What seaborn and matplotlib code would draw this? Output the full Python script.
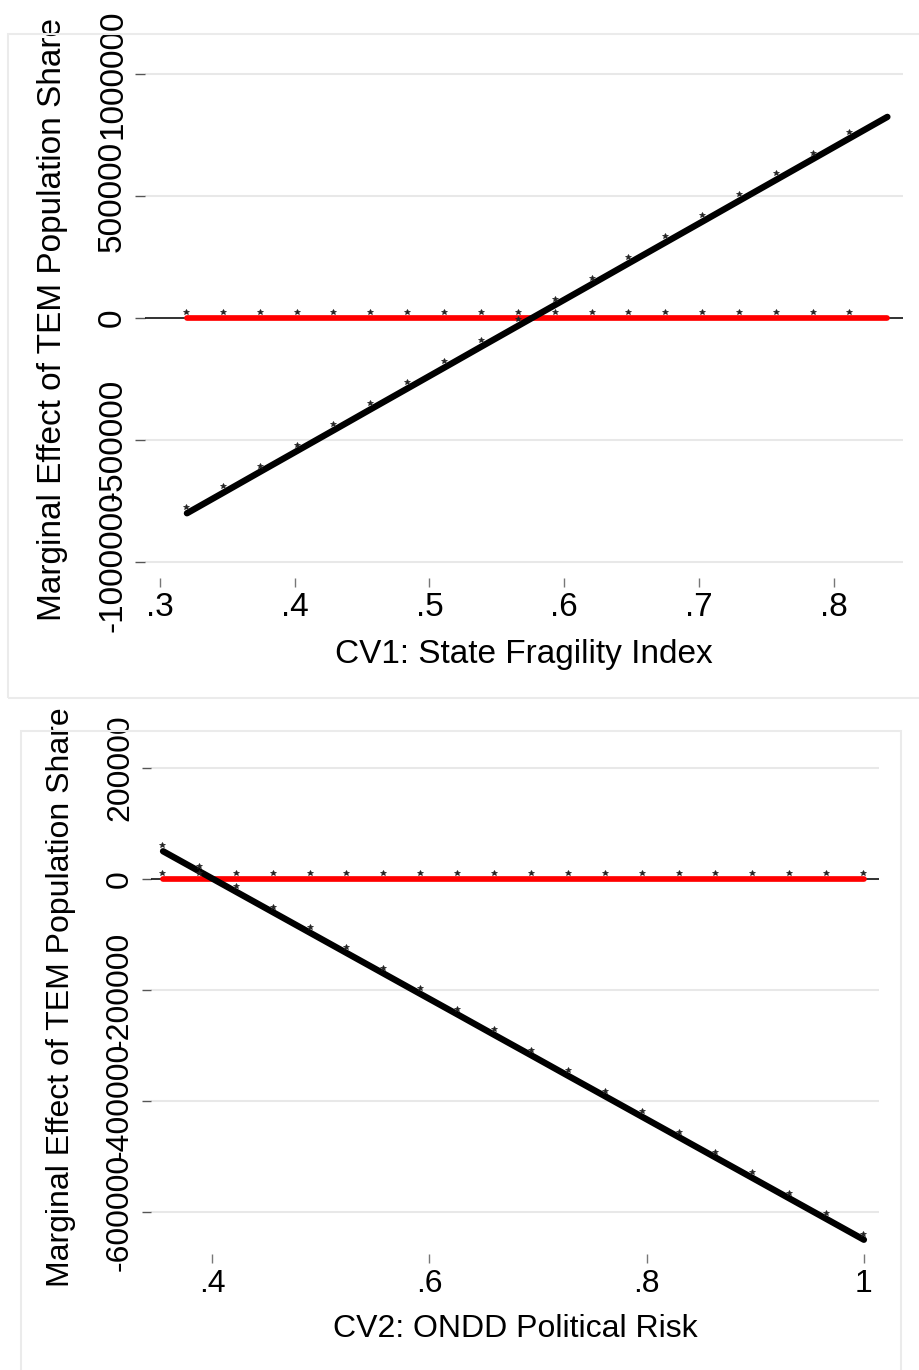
import matplotlib
matplotlib.use("Agg")
import matplotlib.pyplot as plt
from matplotlib.patches import Rectangle
from matplotlib.transforms import offset_copy
import seaborn as sns
import pandas as pd

# ---------------- data ----------------
cv1_x = [0.32, 0.3474, 0.3747, 0.4021, 0.4295, 0.4568, 0.4842, 0.5116, 0.5389, 0.5663,
         0.5937, 0.6211, 0.6484, 0.6758, 0.7032, 0.7305, 0.7579, 0.7853, 0.8126, 0.84]
cv1_me = [-800000, -714500, -629000, -543600, -458100, -372600, -287200, -201700, -116200, -30700,
          54700, 140200, 225700, 311200, 396600, 482100, 567600, 653100, 738500, 824000]
cv1_ref = [0] * 20
cv1_star_n = 19

cv2_x = [0.355, 0.3889, 0.4229, 0.4568, 0.4908, 0.5247, 0.5587, 0.5926, 0.6266, 0.6605,
         0.6945, 0.7284, 0.7624, 0.7963, 0.8303, 0.8642, 0.8982, 0.9321, 0.9661, 1.0]
cv2_me = [50000, 13200, -23700, -60500, -97400, -134200, -171100, -207900, -244700, -281600,
          -318400, -355300, -392100, -428900, -465800, -502600, -539500, -576300, -613200, -650000]
cv2_ref = [0] * 20
cv2_star_n = 20

top_yticks = [-1000000, -500000, 0, 500000, 1000000]
top_yticklabels = ["-1000000", "-500000", "0", "500000", "1000000"]
top_xticks = [0.3, 0.4, 0.5, 0.6, 0.7, 0.8]
top_xticklabels = [".3", ".4", ".5", ".6", ".7", ".8"]

bot_yticks = [-600000, -400000, -200000, 0, 200000]
bot_yticklabels = ["-600000", "-400000", "-200000", "0", "200000"]
bot_xticks = [0.4, 0.6, 0.8, 1.0]
bot_xticklabels = [".4", ".6", ".8", "1"]

ylabel = "Marginal Effect of TEM Population Share"
top_xlabel = "CV1: State Fragility Index"
bot_xlabel = "CV2: ONDD Political Risk"

# ---------------- figure ----------------
sns.set_theme(style="white")
plt.rcParams["font.family"] = ["Liberation Sans", "DejaVu Sans"]
plt.rcParams["text.color"] = "black"
plt.rcParams["axes.labelcolor"] = "black"

W, H = 919, 1370
fig = plt.figure(figsize=(W / 100, H / 100), dpi=100)
fig.patch.set_facecolor("white")

# outer graph-region frames
fig.patches.append(Rectangle((8 / W, (H - 698) / H), 1.05, (698 - 34) / H,
                             transform=fig.transFigure, fill=False,
                             edgecolor="#ebebeb", lw=1.5, zorder=0))
fig.patches.append(Rectangle((21 / W, -0.05), (901 - 21) / W, (H - 731) / H + 0.05,
                             transform=fig.transFigure, fill=False,
                             edgecolor="#ebebeb", lw=1.5, zorder=0))


def px_axes(l, t, r, b):
    return fig.add_axes([l / W, (H - b) / H, (r - l) / W, (b - t) / H])


def draw_panel(ax, x, me, ref, nstar, yticks, yticklabels, xticks, xticklabels,
               xlabel, xlim, ylim, fs, ylab_x, xlab_y, ytick_len, ypad, xpad):
    ax.set_facecolor("white")
    for s in ax.spines.values():
        s.set_visible(False)
    ax.set_xlim(*xlim)
    ax.set_ylim(*ylim)
    ax.set_yticks(yticks)
    ax.set_yticklabels(yticklabels, rotation=90, va="center", fontsize=fs, color="black")
    ax.set_xticks(xticks)
    ax.set_xticklabels(xticklabels, fontsize=fs, color="black")
    ax.yaxis.grid(True, color="#e8e8e8", lw=1.5)
    ax.xaxis.grid(False)
    ax.set_axisbelow(True)
    ax.tick_params(axis="y", direction="out", length=ytick_len, width=1.0,
                   color="#555555", pad=ypad, left=True)
    ax.tick_params(axis="x", direction="out", length=6.5, width=1.0,
                   color="#777777", pad=xpad, bottom=True)
    # zero line
    ax.axhline(0, color="black", lw=1.1, zorder=2)
    df = pd.DataFrame({"x": x, "me": me, "ref": ref})
    sns.lineplot(data=df, x="x", y="ref", ax=ax, color="#ff0000", lw=4.1,
                 solid_capstyle="round", zorder=3)
    sns.lineplot(data=df, x="x", y="me", ax=ax, color="black", lw=4.6,
                 solid_capstyle="round", zorder=4)
    tr = offset_copy(ax.transData, fig=fig, x=-1, y=6, units="dots")
    ds = df.iloc[:nstar]
    for col in ["ref", "me"]:
        ax.plot(ds["x"], ds[col], ls="none", marker="*", ms=4.2, color="#222222",
                mec="#222222", mew=0.5, transform=tr, zorder=5)
    ax.set_xlabel(xlabel, fontsize=fs, va="baseline", color="black")
    ax.xaxis.set_label_coords(0.5, xlab_y)
    ax.set_ylabel(ylabel, fontsize=fs, va="center", color="black")
    ax.yaxis.set_label_coords(ylab_x, 0.5)


# top panel: axes from x 145..903, y 61..578
ax1 = px_axes(145, 61, 903, 578)
draw_panel(ax1, cv1_x, cv1_me, cv1_ref, cv1_star_n,
           top_yticks, top_yticklabels, top_xticks, top_xticklabels, top_xlabel,
           xlim=(0.28886, 0.85159), ylim=(-1065300, 1053000), fs=24,
           ylab_x=(53 - 145) / 758, xlab_y=(578 - 663) / 517,
           ytick_len=7.2, ypad=5, xpad=3.6)

# bottom panel: axes from x 151..879, y 740..1254
ax2 = px_axes(151, 740, 879, 1254)
draw_panel(ax2, cv2_x, cv2_me, cv2_ref, cv2_star_n,
           bot_yticks, bot_yticklabels, bot_xticks, bot_xticklabels, bot_xlabel,
           xlim=(0.3439, 1.0139), ylim=(-675700, 250450), fs=23,
           ylab_x=(61 - 151) / 728, xlab_y=(1254 - 1337) / 514,
           ytick_len=6.5, ypad=5, xpad=4.3)

fig.savefig("out.png", dpi=100, facecolor="white")
